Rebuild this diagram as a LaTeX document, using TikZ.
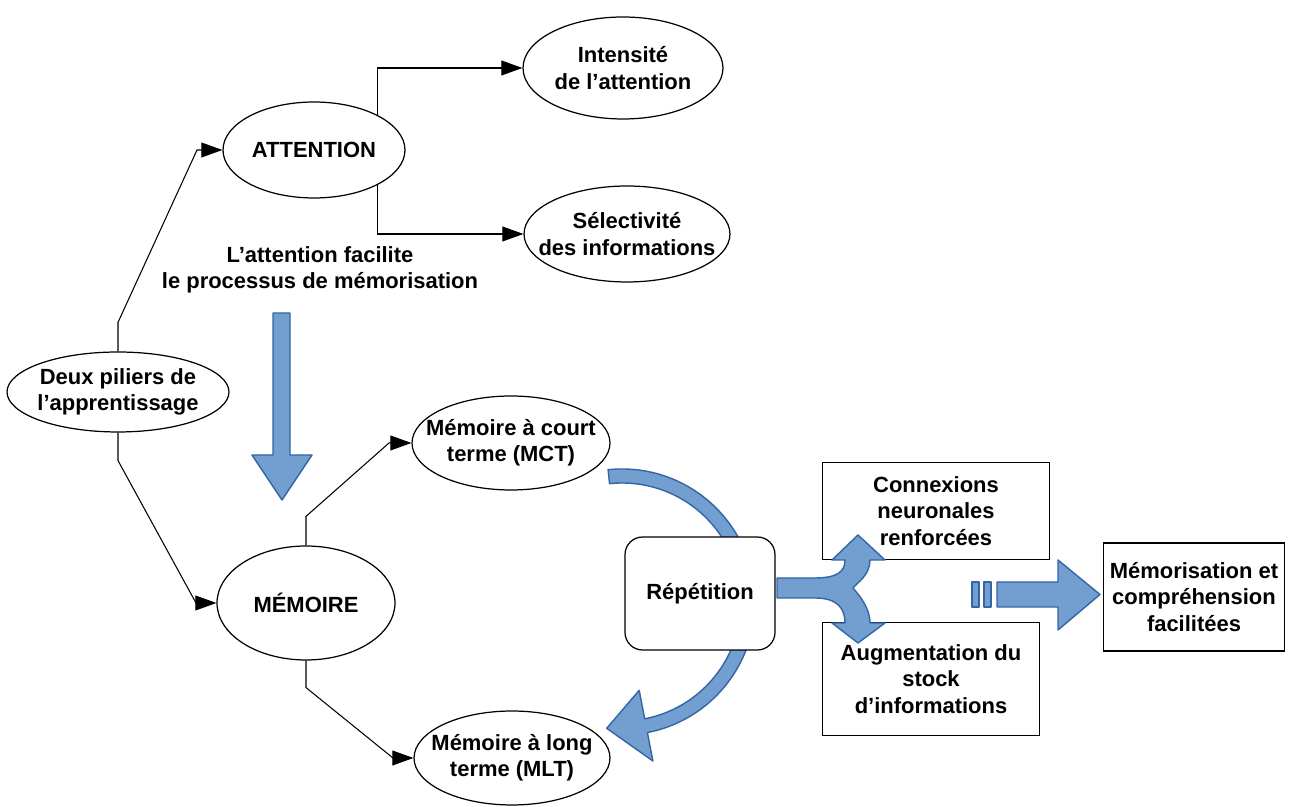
\documentclass[tikz,border=0pt]{standalone}
\usepackage{fontspec}
\setmainfont{Liberation Sans}
\usetikzlibrary{shapes.geometric,arrows.meta}
\begin{document}
\begin{tikzpicture}[x=0.02cm,y=0.02cm,
  tag/.style={align=center,font=\bfseries\fontsize{12.5}{15}\selectfont},
  bubble/.style args={#1/#2}{ellipse,draw,fill=white,line width=0.7pt,inner sep=0pt,minimum width=#1,minimum height=#2},
  panel/.style args={#1/#2}{rectangle,draw,fill=white,line width=0.7pt,inner sep=0pt,minimum width=#1,minimum height=#2,tag},
  link/.style={line width=0.6pt,-{Triangle[length=12pt,width=8.5pt]}},
  fatarrow/.style={fill=arrowfill,draw=arrowline,line width=0.8pt,line join=round}]
\definecolor{arrowfill}{HTML}{729FCF}
\definecolor{arrowline}{HTML}{3465A4}
	\fill[white] (0,0) rectangle (1292,807);
	\useasboundingbox (0,0) rectangle (1292,807);
	\filldraw[fatarrow] ([shift={(622,205)}]96:133) arc[start angle=96,end angle=-79,radius=133]
		-- ([shift={(622,205)}]-79:162) -- (606.7,78.7) -- ([shift={(622,205)}]-79:90)
		-- ([shift={(622,205)}]-79:119) arc[start angle=-79,end angle=96,radius=119] -- cycle;
	\node[bubble={4.44cm/1.6cm},label={[tag]center:Deux piliers de\\l’apprentissage}] (piliers) at (118,415) {};
	\node[bubble={3.64cm/1.92cm},label={[tag]center:ATTENTION}] (attention) at (314,657) {};
	\node[bubble={4cm/2.04cm},label={[tag]center:Intensité\\de l’attention}] (intensite) at (623,739) {};
	\node[bubble={4.12cm/1.92cm},label={[tag]center:Sélectivité\\des informations}] (selectivite) at (627,573) {};
	\node[bubble={3.56cm/2.28cm},label={[tag]center:MÉMOIRE}] (memoire) at (306,204) {};
	\node[bubble={3.96cm/1.88cm},label={[tag]center:Mémoire à court\\terme (MCT)}] (mct) at (511,364) {};
	\node[bubble={3.92cm/1.88cm},label={[tag]center:Mémoire à long\\terme (MLT)}] (mlt) at (512,49) {};
	\node[panel={3cm/2.26cm},rounded corners=10pt] (repetition) at (700,213.5) {Répétition};
	\node[panel={4.54cm/1.94cm}] (connexions) at (936,296) {Connexions\\neuronales\\renforcées};
	\node[panel={4.34cm/2.26cm}] (augmentation) at (931,128) {Augmentation du\\stock\\d’informations};
	\node[panel={3.62cm/2.16cm}] (memorisation) at (1194,210) {Mémorisation et\\compréhension\\facilitées};
	\node[tag] (note) at (320,537) {L’attention facilite\\le processus de mémorisation};
	\filldraw[fatarrow] (273,494) -- (290,494) -- (290,352) -- (312,352) -- (282,307) -- (252,352) -- (273,352) -- cycle;
	\filldraw[fatarrow] (777,229) -- (815,229) .. controls (838,229) and (845,236) .. (845,247) -- (832,247) -- (858,272)
		-- (885,247) -- (870,247) .. controls (870,232) and (858,225) .. (853,219) .. controls (858,213) and (870,200) .. (870,184)
		-- (885,184) -- (858,164) -- (832,184) -- (845,184) .. controls (845,198) and (838,209) .. (815,209) -- (777,209) -- cycle;
	\filldraw[fatarrow] (972,200) rectangle (979,225);
	\filldraw[fatarrow] (984,200) rectangle (991,225);
	\filldraw[fatarrow] (997,225) -- (1058,225) -- (1058,247) -- (1100,212.5) -- (1058,177) -- (1058,200) -- (997,200) -- cycle;
	\draw[link] (piliers.north) -- ++(0,29) -- (197,657) -- (attention.west);
	\draw[link] (piliers.south) -- ++(0,-28) -- (196,204) -- (memoire.west);
	\draw[link] (attention.29) |- (intensite.west);
	\draw[link] (attention.-29) |- (selectivite.west);
	\draw[link] (memoire.north) -- ++(0,29) -- (389,364) -- (mct.west);
	\draw[link] (memoire.south) -- ++(0,-27) -- (393,49) -- (mlt.west);
\end{tikzpicture}
\end{document}
